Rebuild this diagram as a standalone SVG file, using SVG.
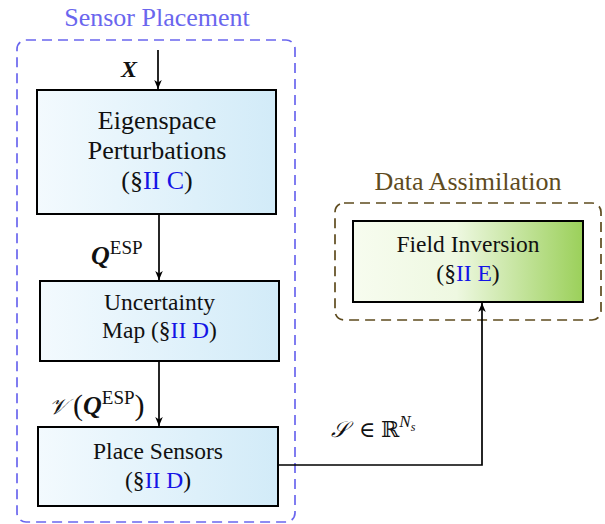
<svg xmlns="http://www.w3.org/2000/svg" width="605" height="524" viewBox="0 0 605 524">
<defs>
<linearGradient id="gBlue" x1="0" y1="0" x2="1" y2="0">
<stop offset="0" stop-color="#f3fafe"/>
<stop offset="1" stop-color="#d2ebf8"/>
</linearGradient>
<linearGradient id="gGreen" x1="0" y1="0" x2="1" y2="0">
<stop offset="0" stop-color="#f7fcef"/>
<stop offset="0.45" stop-color="#eef8e1"/>
<stop offset="1" stop-color="#9bd05a"/>
</linearGradient>
<marker id="arr" viewBox="0 0 10 10" refX="10" refY="5" markerWidth="9" markerHeight="9" markerUnits="userSpaceOnUse" orient="auto">
<path d="M0,0.8 L10,5 L0,9.2 L2.8,5 Z" fill="#000"/>
</marker>
<style>
text{font-family:"Liberation Serif","DejaVu Serif",serif;fill:#111}
.t26{font-size:26px;text-anchor:middle}
.t23{font-size:23.5px;text-anchor:middle}
.ref{fill:#1414e6}
.box{stroke:#000;stroke-width:2}
.cl{fill:none;stroke-width:1.7;stroke-dasharray:10 6}
.edge{fill:none;stroke:#000;stroke-width:1.7;marker-end:url(#arr)}
.bi{font-weight:bold;font-style:italic}
</style>
</defs>

<g id="cluster-sensor-placement">
<rect class="cl" x="17" y="40" width="278" height="482" rx="9" stroke="#6a66ee"/>
<text x="157" y="26" class="t26" style="fill:#6a66ee">Sensor Placement</text>
</g>

<g id="cluster-data-assimilation">
<rect class="cl" x="335" y="203" width="266" height="117" rx="9" stroke="#5e4b1e"/>
<text x="468" y="190" class="t26" style="fill:#5e4b1e">Data Assimilation</text>
</g>

<g id="node-eigenspace">
<rect class="box" x="37" y="90" width="239" height="124" fill="url(#gBlue)"/>
<text x="157" y="129" class="t26">Eigenspace</text>
<text x="157" y="159" class="t26">Perturbations</text>
<text x="157" y="189" class="t26">(§<tspan class="ref">II C</tspan>)</text>
</g>

<g id="node-uncertainty">
<rect class="box" x="40" y="281" width="239" height="80" fill="url(#gBlue)"/>
<text x="159.5" y="310" class="t23">Uncertainty</text>
<text x="159.5" y="338" class="t23">Map (§<tspan class="ref">II D</tspan>)</text>
</g>

<g id="node-place-sensors">
<rect class="box" x="38" y="427" width="240" height="79" fill="url(#gBlue)"/>
<text x="158" y="459" class="t23">Place Sensors</text>
<text x="158" y="488" class="t23">(§<tspan class="ref">II D</tspan>)</text>
</g>

<g id="node-field-inversion">
<rect class="box" x="353" y="221" width="230" height="81" fill="url(#gGreen)"/>
<text x="468" y="252" class="t23">Field Inversion</text>
<text x="468" y="281" class="t23">(§<tspan class="ref">II E</tspan>)</text>
</g>

<g id="connectors">
<line class="edge" x1="158" y1="50" x2="158" y2="89"/>
<line class="edge" x1="159" y1="214" x2="159" y2="280"/>
<line class="edge" x1="159" y1="361" x2="159" y2="426"/>
<path class="edge" d="M278,465 H482 V303"/>
</g>

<g id="labels">
<text x="121" y="77" class="bi" style="font-size:24px">X</text>
<text x="91" y="264"><tspan class="bi" style="font-size:26px">Q</tspan><tspan style="font-size:19px" dy="-10">ESP</tspan></text>
<text x="49" y="414" style="font-size:22px"><tspan style="font-family:'DejaVu Serif','Noto Sans',serif;font-style:italic">𝒱</tspan><tspan x="73" style="font-size:30px" dy="1">(</tspan><tspan class="bi" style="font-size:26px" dy="-1">Q</tspan><tspan style="font-size:19px" dy="-10">ESP</tspan><tspan style="font-size:30px" dy="11">)</tspan></text>
<text x="331" y="437" style="font-size:22px"><tspan style="font-style:italic">𝒮</tspan><tspan x="359">∈</tspan><tspan x="381" style="font-family:'DejaVu Serif',serif">ℝ</tspan><tspan style="font-size:17px;font-style:italic" dy="-10">N</tspan><tspan style="font-size:12px;font-style:italic" dy="4">s</tspan></text>
</g>
</svg>
